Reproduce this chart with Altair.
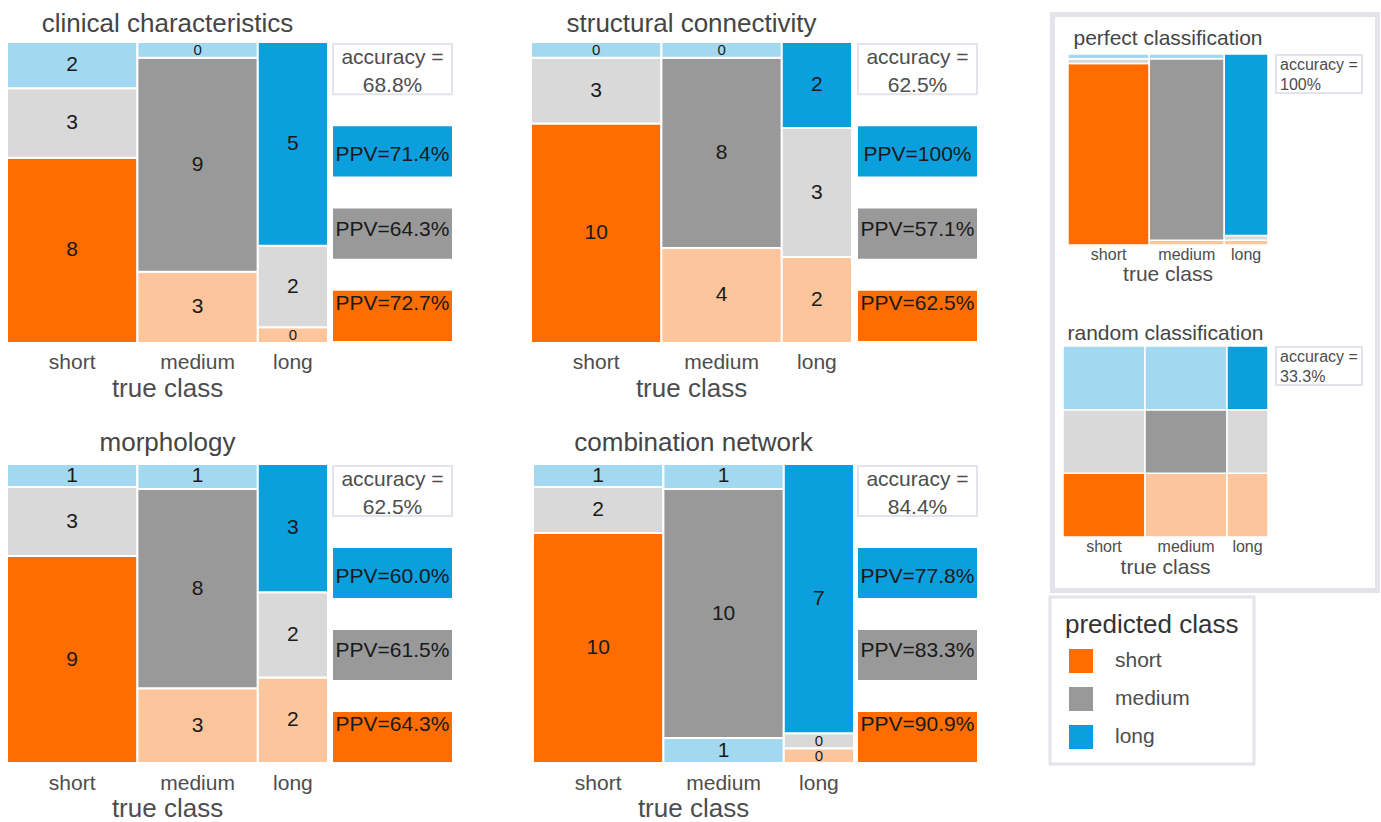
import altair as alt
import pandas as pd

# ---------------------------------------------------------------------------
# data: confusion counts, one list per true class,
# entries ordered by predicted class (short, medium, long)
# ---------------------------------------------------------------------------
classes = ["short", "medium", "long"]

clinical_counts = [[8, 3, 2], [3, 9, 0], [0, 2, 5]]
structural_counts = [[10, 3, 0], [4, 8, 0], [2, 3, 2]]
morphology_counts = [[9, 3, 1], [3, 8, 1], [2, 2, 3]]
combination_counts = [[10, 2, 1], [1, 10, 1], [0, 0, 7]]

perfect_counts = [[13, 0, 0], [0, 12, 0], [0, 0, 7]]
random_counts = [[4, 4, 4], [4, 4, 4], [2, 2, 2]]

panel_titles = ["clinical characteristics", "structural connectivity",
                "morphology", "combination network"]

# shading that departs from the default scheme: (true, predicted) -> fill key
combination_fill = {("medium", "short"): "long_light"}

# ---------------------------------------------------------------------------
# styling
# ---------------------------------------------------------------------------
FONT = "Liberation Sans"
INK = "#1a1a1a"
GREY = "#4d4d4d"
TITLE = "#454545"
FRAME = "#e3e3ec"

dark_colors = ["#ff6d00", "#999999", "#0c9fdd"]
light_colors = ["#fdc59b", "#d9d9d9", "#a3d9f0"]
fill_keys = classes + [c + "_light" for c in classes]
fill_scale = alt.Scale(domain=fill_keys, range=dark_colors + light_colors)

box_keys = ["accuracy", "long", "medium", "short"]


def pct(v):
    return "100%" if abs(v - 1) < 1e-9 else f"{100 * v:.1f}%"


def accuracy(counts):
    return sum(counts[i][i] for i in range(3)) / sum(map(sum, counts))


def ppv(counts, j):
    return counts[j][j] / sum(counts[i][j] for i in range(3))


def mosaic_cells(counts, zero_share, override=None):
    """Column widths follow true-class sizes, heights the predicted shares."""
    rows = []
    left = 0
    for ti, t in enumerate(classes):
        col = counts[ti]
        n_col = sum(col)
        w = [n / n_col if n > 0 else zero_share for n in col]
        tot = sum(w)
        base = 0.0
        for pi, p in enumerate(classes):
            h = w[pi] / tot
            key = p if p == t else p + "_light"
            if override and (t, p) in override:
                key = override[(t, p)]
            rows.append(dict(true=t, pred=p, n=col[pi], x=left, x2=left + n_col,
                             xm=left + n_col / 2, y=base, y2=base + h,
                             ym=base + h / 2, fill=key))
            base += h
        left += n_col
    return pd.DataFrame(rows)


def mosaic_layers(counts, xr, yr, zero_share, stroke_w, title, title_size,
                  title_dy, lab_size, lab_dy, axt_size, axt_dy,
                  numbers=True, override=None):
    df = mosaic_cells(counts, zero_share, override)
    total = sum(map(sum, counts))
    xs = alt.Scale(domain=[0, total], range=list(xr), nice=False, zero=False)
    ys = alt.Scale(domain=[0, 1], range=[yr[1], yr[0]], nice=False, zero=False)

    def X(f):
        return alt.X(f, type="quantitative", scale=xs, axis=None)

    def Y(f):
        return alt.Y(f, type="quantitative", scale=ys, axis=None)

    layers = [
        alt.Chart(df).mark_rect(stroke="white", strokeWidth=stroke_w).encode(
            x=X("x"), x2="x2:Q", y=Y("y"), y2="y2:Q",
            color=alt.Color("fill:N", scale=fill_scale, legend=None),
        )
    ]
    if numbers:
        layers.append(
            alt.Chart(df).mark_text(font=FONT, color=INK, baseline="middle").encode(
                x=X("xm"), y=Y("ym"), text="n:Q",
                size=alt.condition("datum.n == 0", alt.value(15), alt.value(21)),
            )
        )
    mids = df.drop_duplicates("true")
    lab_df = pd.DataFrame({"cls": mids["true"], "xm": mids["xm"], "y": 0})
    layers.append(
        alt.Chart(lab_df).mark_text(font=FONT, fontSize=lab_size, color=GREY,
                                    baseline="alphabetic", dy=lab_dy).encode(
            x=X("xm"), y=Y("y"), text="cls:N")
    )
    layers.append(
        alt.Chart(pd.DataFrame({"t": ["true class"], "xm": [total / 2], "y": [0]}))
        .mark_text(font=FONT, fontSize=axt_size, color=GREY,
                   baseline="alphabetic", dy=axt_dy)
        .encode(x=X("xm"), y=Y("y"), text="t:N")
    )
    layers.append(
        alt.Chart(pd.DataFrame({"t": [title], "xm": [total / 2], "y": [1]}))
        .mark_text(font=FONT, fontSize=title_size, color=TITLE,
                   baseline="alphabetic", dy=title_dy)
        .encode(x=X("xm"), y=Y("y"), text="t:N")
    )
    return layers


def box_layers(counts, xr, yr, legend=None):
    labels = ["accuracy =\n" + pct(accuracy(counts))]
    labels += ["PPV=" + pct(ppv(counts, classes.index(k))) for k in box_keys[1:]]
    bdf = pd.DataFrame({"key": box_keys, "label": labels,
                        "pred": [""] + box_keys[1:], "x": 0, "x2": 1, "xm": 0.5})
    bxs = alt.Scale(domain=[0, 1], range=list(xr), nice=False, zero=False)
    bys = alt.Scale(domain=box_keys, range=list(yr), paddingInner=0.39,
                    paddingOuter=0)
    X = alt.X("x:Q", scale=bxs, axis=None)
    XM = alt.X("xm:Q", scale=bxs, axis=None)
    Y = alt.Y("key:N", scale=bys, axis=None)
    acc = bdf.iloc[:1]
    pv = bdf.iloc[1:]
    return [
        alt.Chart(acc).mark_rect(fill="white", stroke=FRAME, strokeWidth=2)
        .encode(x=X, x2="x2:Q", y=Y),
        alt.Chart(acc).mark_text(font=FONT, fontSize=21, color=GREY, dy=-23,
                                 lineBreak="\n", lineHeight=28, baseline="middle")
        .encode(x=XM, y=Y, text="label:N"),
        alt.Chart(pv).mark_rect().encode(
            x=X, x2="x2:Q", y=Y,
            color=alt.Color("pred:N", scale=alt.Scale(domain=classes, range=dark_colors),
                            legend=legend)),
        alt.Chart(pv).mark_text(font=FONT, fontSize=21, color=INK, baseline="middle")
        .encode(x=XM, y=Y, text="label:N"),
    ]


def inset_box_layers(counts, xr, yr):
    df = pd.DataFrame({"label": ["accuracy =\n" + pct(accuracy(counts))],
                       "x": [0], "x2": [1], "y": [0], "y2": [1], "ym": [0.5]})
    xs = alt.Scale(domain=[0, 1], range=list(xr), nice=False, zero=False)
    ys = alt.Scale(domain=[0, 1], range=[yr[1], yr[0]], nice=False, zero=False)
    return [
        alt.Chart(df).mark_rect(fill="white", stroke=FRAME, strokeWidth=2).encode(
            x=alt.X("x:Q", scale=xs, axis=None), x2="x2:Q",
            y=alt.Y("y:Q", scale=ys, axis=None), y2="y2:Q"),
        alt.Chart(df).mark_text(font=FONT, fontSize=16, color=GREY, align="left",
                                dx=4, dy=-9, lineBreak="\n", lineHeight=20,
                                baseline="middle").encode(
            x=alt.X("x:Q", scale=xs, axis=None),
            y=alt.Y("ym:Q", scale=ys, axis=None), text="label:N"),
    ]


legend = alt.Legend(
    title="predicted class", orient="none", direction="vertical",
    legendX=1050, legendY=597, padding=15, strokeColor=FRAME,
    titleFont=FONT, titleFontSize=26, titleFontWeight="normal", titleColor="#333333",
    titlePadding=11, labelFont=FONT, labelFontSize=21, labelColor=GREY,
    symbolType="square", symbolSize=576, symbolStrokeWidth=0, symbolOpacity=1,
    rowPadding=14, labelOffset=22, symbolOffset=4,
)

# ---------------------------------------------------------------------------
# layout of the four main panels: mosaic extent and side boxes (pixels)
# ---------------------------------------------------------------------------
panels = [
    (clinical_counts, (7, 328), (42, 343), (333, 452), (44, 341), -10, 26, 54, None),
    (structural_counts, (531, 852), (42, 343), (858, 977), (44, 341), -10, 26, 54, None),
    (morphology_counts, (7, 328), (464, 763), (333, 452), (466, 762), -13, 27, 54, None),
    (combination_counts, (533, 854), (464, 763), (858, 977), (466, 762), -13, 27, 54,
     combination_fill),
]

# frame around the two reference mosaics
frame_df = pd.DataFrame({"x": [0], "x2": [1], "y": [0], "y2": [1]})
layers = [
    alt.Chart(frame_df).mark_rect(fill="white", stroke=FRAME, strokeWidth=5).encode(
        x=alt.X("x:Q", scale=alt.Scale(domain=[0, 1], range=[1052.5, 1377.5]), axis=None),
        x2="x2:Q",
        y=alt.Y("y:Q", scale=alt.Scale(domain=[0, 1], range=[590.5, 14.5]), axis=None),
        y2="y2:Q",
    )
]

for i, (counts, mx, my, bx, by, tdy, ldy, ady, ovr) in enumerate(panels):
    layers += mosaic_layers(counts, mx, my, 0.055, 2, panel_titles[i], 26, tdy,
                            21, ldy, 26, ady, numbers=True, override=ovr)
    layers += box_layers(counts, bx, by, legend=legend if i == 0 else None)

layers += mosaic_layers(perfect_counts, (1068, 1268), (54, 245), 0.026, 1.5,
                        "perfect classification", 21, -9, 16, 15, 21, 36,
                        numbers=False)
layers += inset_box_layers(perfect_counts, (1276, 1362), (55, 93))
layers += mosaic_layers(random_counts, (1063, 1268), (346, 537), 0.026, 1.5,
                        "random classification", 21, -6, 16, 15, 21, 37,
                        numbers=False)
layers += inset_box_layers(random_counts, (1276, 1362), (347, 385))

chart = (
    alt.layer(*layers)
    .resolve_scale(x="independent", y="independent", color="independent")
    .properties(width=1381, height=822, padding=0,
                autosize=alt.AutoSizeParams(type="none"))
    .configure_view(stroke=None)
    .configure_legend(strokeWidth=3)
)

chart.save("out.html", embed_options={"renderer": "svg", "actions": False})
